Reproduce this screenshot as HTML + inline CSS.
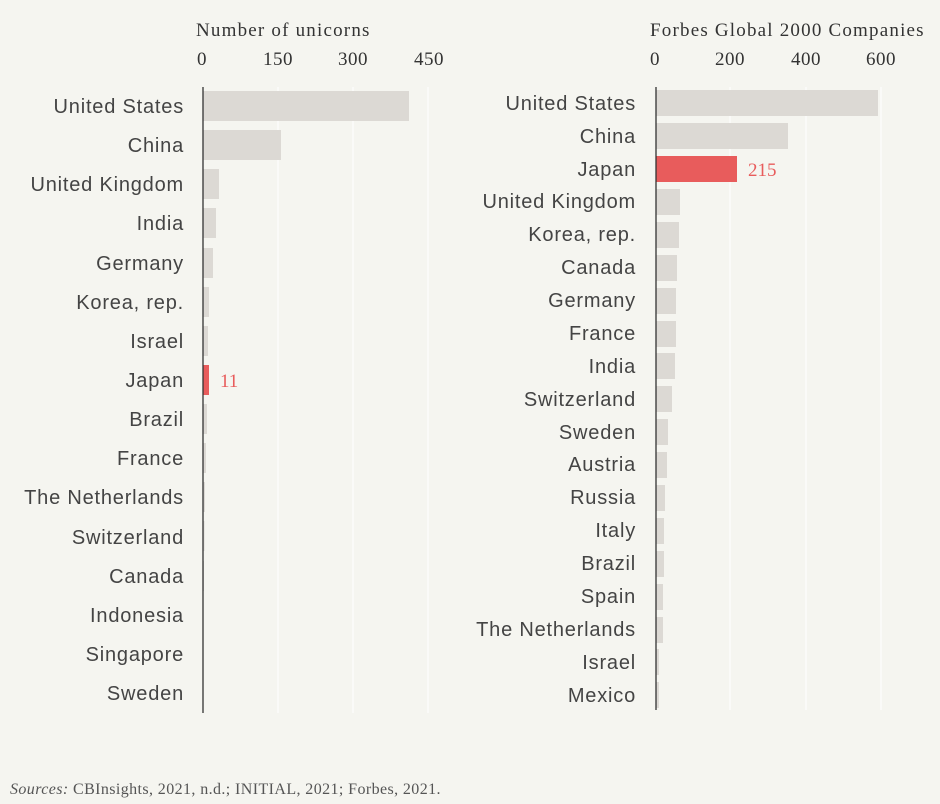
<!DOCTYPE html><html><head><style>body{margin:0;background:#f5f5f0}svg{display:block}
.t{font-family:"Liberation Serif",serif;font-size:19px;fill:#333;letter-spacing:1.2px}
.k{font-family:"Liberation Serif",serif;font-size:19px;fill:#333;letter-spacing:0.5px}
.l{font-family:"Liberation Sans",sans-serif;font-size:20px;fill:#444;text-anchor:end;letter-spacing:0.8px}
.v{font-family:"Liberation Serif",serif;font-size:19px;fill:#e85c5c}
</style></head><body>
<svg width="940" height="804" xmlns="http://www.w3.org/2000/svg">
<rect width="940" height="804" fill="#f5f5f0"/>
<text class="t" x="196" y="36">Number of unicorns</text>
<text class="k" x="197" y="65">0</text><text class="k" x="278" y="65" text-anchor="middle">150</text><text class="k" x="353" y="65" text-anchor="middle">300</text><text class="k" x="429" y="65" text-anchor="middle">450</text>
<g stroke="#fff" stroke-width="1"><line x1="278" y1="87" x2="278" y2="713"/><line x1="353" y1="87" x2="353" y2="713"/><line x1="428" y1="87" x2="428" y2="713"/>
<line x1="730" y1="87" x2="730" y2="710"/><line x1="806" y1="87" x2="806" y2="710"/><line x1="881" y1="87" x2="881" y2="710"/></g>
<g fill="#dcd9d4">
<rect x="203" y="91" width="206" height="30"/>
<rect x="203" y="130" width="78" height="30"/>
<rect x="203" y="169" width="16" height="30"/>
<rect x="203" y="208" width="13" height="30"/>
<rect x="203" y="248" width="10" height="30"/>
<rect x="203" y="287" width="6" height="30"/>
<rect x="203" y="326" width="5" height="30"/>
<rect x="203" y="404" width="4" height="30"/>
<rect x="203" y="443" width="3" height="30"/>
<rect x="203" y="482" width="2" height="30"/>
<rect x="203" y="521" width="1.5" height="30"/>
<rect x="203" y="561" width="1" height="30"/>
</g>
<rect x="203" y="365" width="6" height="30" fill="#e85c5c"/>
<text class="v" x="220" y="387">11</text>
<g class="l">
<text x="184" y="113">United States</text><text x="184" y="152">China</text><text x="184" y="191">United Kingdom</text><text x="184" y="230">India</text><text x="184" y="270">Germany</text><text x="184" y="309">Korea, rep.</text><text x="184" y="348">Israel</text><text x="184" y="387">Japan</text><text x="184" y="426">Brazil</text><text x="184" y="465">France</text><text x="184" y="504">The Netherlands</text><text x="184" y="544">Switzerland</text><text x="184" y="583">Canada</text><text x="184" y="622">Indonesia</text><text x="184" y="661">Singapore</text><text x="184" y="700">Sweden</text>
</g>
<line x1="203" y1="87" x2="203" y2="713" stroke="#333" stroke-width="1.3"/>

<text class="t" x="650" y="36">Forbes Global 2000 Companies</text>
<text class="k" x="650" y="65">0</text><text class="k" x="730" y="65" text-anchor="middle">200</text><text class="k" x="806" y="65" text-anchor="middle">400</text><text class="k" x="881" y="65" text-anchor="middle">600</text>
<g fill="#dcd9d4">
<rect x="656" y="90" width="222" height="26"/>
<rect x="656" y="123" width="132" height="26"/>
<rect x="656" y="189" width="24" height="26"/>
<rect x="656" y="222" width="23" height="26"/>
<rect x="656" y="255" width="21" height="26"/>
<rect x="656" y="288" width="20" height="26"/>
<rect x="656" y="321" width="20" height="26"/>
<rect x="656" y="353" width="19" height="26"/>
<rect x="656" y="386" width="16" height="26"/>
<rect x="656" y="419" width="12" height="26"/>
<rect x="656" y="452" width="11" height="26"/>
<rect x="656" y="485" width="9" height="26"/>
<rect x="656" y="518" width="8" height="26"/>
<rect x="656" y="551" width="8" height="26"/>
<rect x="656" y="584" width="7" height="26"/>
<rect x="656" y="617" width="7" height="26"/>
<rect x="656" y="649" width="3" height="26"/>
<rect x="656" y="682" width="3" height="26"/>
</g>
<rect x="656" y="156" width="81" height="26" fill="#e85c5c"/>
<text class="v" x="748" y="176">215</text>
<g class="l">
<text x="636" y="110">United States</text><text x="636" y="143">China</text><text x="636" y="176">Japan</text><text x="636" y="208">United Kingdom</text><text x="636" y="241">Korea, rep.</text><text x="636" y="274">Canada</text><text x="636" y="307">Germany</text><text x="636" y="340">France</text><text x="636" y="373">India</text><text x="636" y="406">Switzerland</text><text x="636" y="439">Sweden</text><text x="636" y="471">Austria</text><text x="636" y="504">Russia</text><text x="636" y="537">Italy</text><text x="636" y="570">Brazil</text><text x="636" y="603">Spain</text><text x="636" y="636">The Netherlands</text><text x="636" y="669">Israel</text><text x="636" y="702">Mexico</text>
</g>
<line x1="656" y1="87" x2="656" y2="710" stroke="#333" stroke-width="1.3"/>
<text x="10" y="794" style="font-family:'Liberation Serif',serif;font-size:16px;fill:#555;letter-spacing:0.4px"><tspan font-style="italic">Sources:</tspan> CBInsights, 2021, n.d.; INITIAL, 2021; Forbes, 2021.</text>
</svg></body></html>
